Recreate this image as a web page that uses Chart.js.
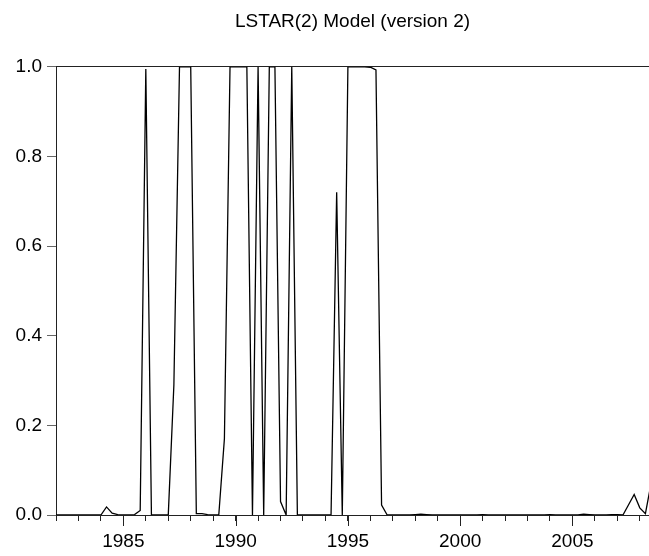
<!DOCTYPE html>
<html>
<head>
<meta charset="utf-8">
<script src="https://cdn.jsdelivr.net/npm/chart.js@4.4.1/dist/chart.umd.min.js"></script>
<style>
  html, body { margin: 0; padding: 0; background: #fff; }
  #wrap { width: 649px; height: 556px; }
</style>
</head>
<body>
<div id="wrap"><canvas id="chart" width="649" height="556"></canvas></div>
<script>
// quarterly series, first obs = 1982Q1
var firstYear = 1982;
var lastYear = 2008.41;
var lstar = [
  0, 0, 0, 0, 0, 0, 0, 0,                 // 1982-1983
  0, 0.018, 0.004, 0.001,                 // 1984
  0, 0, 0.001, 0.01,                      // 1985
  0.995, 0, 0, 0,                         // 1986
  0, 0.29, 1.0, 1.0,                      // 1987
  1.0, 0.003, 0.003, 0.001,               // 1988
  0, 0, 0.17, 1.0,                        // 1989
  1.0, 1.0, 1.0, 0,                       // 1990
  1.0, 0, 1.0, 1.0,                       // 1991
  0.03, 0, 1.0, 0,                        // 1992
  0, 0, 0, 0,                             // 1993
  0, 0, 0.72, 0,                          // 1994
  1.0, 1.0, 1.0, 1.0,                     // 1995
  0.999, 0.993, 0.022, 0,                 // 1996
  0, 0, 0, 0,                             // 1997
  0.001, 0.002, 0.001, 0,                 // 1998
  0, 0, 0, 0,                             // 1999
  0, 0, 0, 0,                             // 2000
  0.001, 0, 0, 0,                         // 2001
  0, 0, 0, 0,                             // 2002
  0, 0, 0, 0,                             // 2003
  0.001, 0, 0, 0,                         // 2004
  0, 0, 0.002, 0.001,                     // 2005
  0, 0, 0, 0.001,                         // 2006
  0.001, 0, 0.023, 0.046,                 // 2007
  0.016, 0.003, 0.07                      // 2008
];
var yearLabels = [1985, 1990, 1995, 2000, 2005];
var yTicks = [0, 0.2, 0.4, 0.6, 0.8, 1.0];

var points = lstar.map(function (v, i) {
  return { x: firstYear + i / 4, y: v };
});

// longer tick marks under the labelled years
var majorTicks = {
  id: 'majorTicks',
  afterDraw: function (chart) {
    var ctx = chart.ctx, xs = chart.scales.x, bottom = chart.chartArea.bottom;
    ctx.save();
    ctx.strokeStyle = '#222';
    ctx.lineWidth = 1;
    yearLabels.forEach(function (yr) {
      var px = Math.round(xs.getPixelForValue(yr)) + 0.5;
      ctx.beginPath();
      ctx.moveTo(px, bottom);
      ctx.lineTo(px, bottom + 11);
      ctx.stroke();
    });
    ctx.restore();
  }
};

Chart.defaults.font.family = "'Liberation Sans', Arial, sans-serif";
Chart.defaults.color = '#000';

new Chart(document.getElementById('chart').getContext('2d'), {
  type: 'line',
  data: {
    datasets: [{
      label: 'LSTAR',
      data: points,
      borderColor: '#000',
      borderWidth: 1.3,
      pointRadius: 0,
      tension: 0,
      fill: false
    }]
  },
  options: {
    responsive: false,
    animation: false,
    layout: { padding: { left: 0, right: 0, top: 0, bottom: 0 } },
    plugins: {
      legend: { display: false },
      tooltip: { enabled: false },
      title: {
        display: true,
        fullSize: false,
        text: 'LSTAR(2) Model (version 2)',
        color: '#000',
        font: { size: 19, weight: 'normal' },
        padding: { top: 10, bottom: 34 }
      }
    },
    scales: {
      x: {
        type: 'linear',
        min: firstYear,
        max: lastYear,
        afterFit: function (s) { s.height = 41; },
        afterBuildTicks: function (s) {
          var t = [];
          for (var y = firstYear; y <= Math.floor(lastYear); y++) t.push({ value: y });
          s.ticks = t;
        },
        ticks: {
          autoSkip: false,
          maxRotation: 0,
          padding: 9,
          font: { size: 19 },
          callback: function (v) { return yearLabels.indexOf(v) >= 0 ? String(v) : ''; }
        },
        grid: { drawOnChartArea: false, tickLength: 6, tickColor: '#222' },
        border: { color: '#222', width: 1 }
      },
      y: {
        min: 0,
        max: 1,
        afterFit: function (s) { s.width = 56; },
        afterBuildTicks: function (s) {
          s.ticks = yTicks.map(function (v) { return { value: v }; });
        },
        ticks: {
          padding: 5,
          font: { size: 19 },
          callback: function (v) { return Number(v).toFixed(1); }
        },
        grid: {
          drawOnChartArea: true,
          color: function (c) { return c.tick && c.tick.value >= 0.999 ? '#222' : 'rgba(0,0,0,0)'; },
          tickLength: 9,
          tickColor: '#666'
        },
        border: { color: '#222', width: 1 }
      }
    }
  },
  plugins: [majorTicks]
});
</script>
</body>
</html>
